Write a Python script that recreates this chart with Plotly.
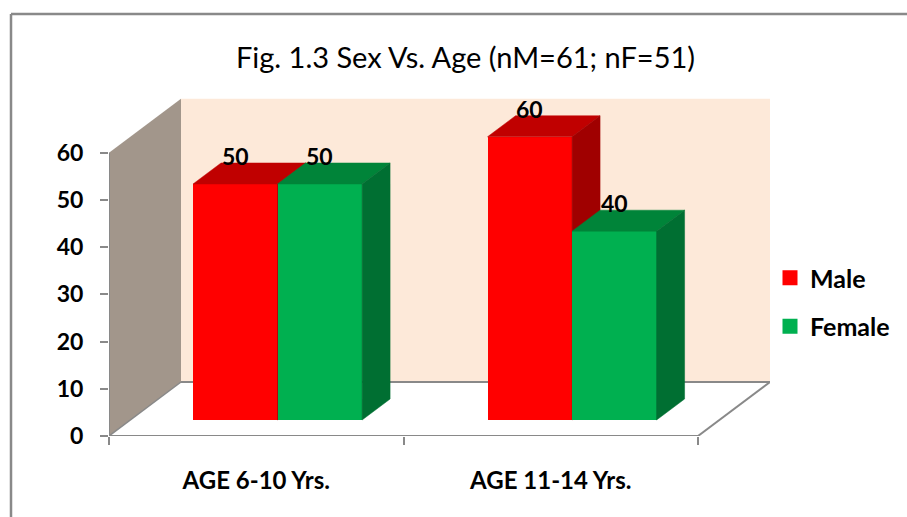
import plotly.graph_objects as go

categories = ["AGE 6-10 Yrs.", "AGE 11-14 Yrs."]
male = [50, 60]
female = [50, 40]
y_ticks = [0, 10, 20, 30, 40, 50, 60]
title_text = "Fig. 1.3 Sex Vs. Age (nM=61; nF=51)"

W, H = 907, 517
L, R, T, B = 109, 770, 98, 436
FONT = "Lato"
GRAY = "#898989"
XMAX = 2 + 72 / 294.5
YMAX = 71.6
DX = 72 / 294.5      # full depth in x-data units
DY = 54 / 4.72       # full depth in y-data units
BAR_W = 0.287
D0, D1 = 0.296, 0.685


def proj(x, y, d):
    return x + d * DX, y + d * DY


def poly(points):
    xs, ys = zip(*[proj(*p) for p in points])
    return list(xs) + [xs[0]], list(ys) + [ys[0]]


def path(points):
    pts = [proj(*p) for p in points]
    return "M" + " L".join(f"{x},{y}" for x, y in pts) + " Z"


def face(points, color, ax):
    xs, ys = poly(points)
    return go.Scatter(x=xs, y=ys, mode="lines", fill="toself", fillcolor=color,
                      line=dict(color=color, width=0.5), hoverinfo="skip",
                      showlegend=False, xaxis=ax[0], yaxis=ax[1])


def series(name, values, offset, front, top, side, ax):
    xc = [i + 0.5 + offset for i in range(len(values))]
    fx = [x + D0 * DX for x in xc]
    out = [go.Bar(x=fx, y=values, base=[D0 * DY] * len(values), width=BAR_W, name=name,
                  marker=dict(color=front, line=dict(width=0)), showlegend=False,
                  xaxis=ax[0], yaxis=ax[1]),
           # legend key only: the outline makes the swatch as large as the reference's
           go.Bar(x=[None], y=[None], name=f"<b>{name}</b>", legendgroup=name,
                  marker=dict(color=front, line=dict(width=3, color=front)),
                  xaxis=ax[0], yaxis=ax[1])]
    for x, v in zip(xc, values):
        a, b = x - BAR_W / 2, x + BAR_W / 2
        out.append(face([(a, v, D0), (b, v, D0), (b, v, D1), (a, v, D1)], top, ax))
        out.append(face([(b, 0, D0), (b, v, D0), (b, v, D1), (b, 0, D1)], side, ax))
    return out


fig = go.Figure()
for t in series("Male", male, -BAR_W / 2, "#FF0000", "#C00000", "#A00000", ("x", "y")):
    fig.add_trace(t)
for t in series("Female", female, BAR_W / 2, "#00B050", "#008439", "#006F32", ("x2", "y2")):
    fig.add_trace(t)

plot_w, plot_h = R - L, B - T
shapes = [
    dict(type="path", path=path([(0, 0, 1), (2, 0, 1), (2, 60, 1), (0, 60, 1)]),
         fillcolor="#FDE9D9", line=dict(width=0), layer="below"),
    dict(type="path", path=path([(0, 0, 0), (0, 0, 1), (0, 60, 1), (0, 60, 0)]),
         fillcolor="#A2968B", line=dict(width=0), layer="below"),
    dict(type="line", x0=proj(0, 0, 1)[0], y0=proj(0, 0, 1)[1], x1=proj(2, 0, 1)[0], y1=proj(2, 0, 1)[1],
         line=dict(color=GRAY, width=2), layer="below"),
    dict(type="line", x0=2, y0=0, x1=proj(2, 0, 1)[0], y1=proj(2, 0, 1)[1],
         line=dict(color=GRAY, width=2), layer="below"),
    dict(type="line", x0=0, y0=0, x1=proj(0, 0, 1)[0], y1=proj(0, 0, 1)[1],
         line=dict(color=GRAY, width=1.5), layer="below"),
    dict(type="line", x0=0, y0=0, x1=2, y1=0, line=dict(color=GRAY, width=2), layer="below"),
    dict(type="line", x0=0, y0=0, x1=0, y1=60, line=dict(color=GRAY, width=2), layer="below"),
    dict(type="line", xref="paper", yref="paper",
         x0=(11 - L) / plot_w, x1=(907 - L) / plot_w,
         y0=(B - 14) / plot_h, y1=(B - 14) / plot_h, line=dict(color=GRAY, width=2.5)),
    dict(type="line", xref="paper", yref="paper",
         x0=(11 - L) / plot_w, x1=(11 - L) / plot_w,
         y0=(B - 14) / plot_h, y1=(B - 517) / plot_h, line=dict(color=GRAY, width=2.5)),
]
for s in shapes:
    if "xref" not in s:
        s["xref"], s["yref"] = "x", "y"

annotations = []
for vals, off in ((male, -BAR_W / 2), (female, BAR_W / 2)):
    for i, v in enumerate(vals):
        annotations.append(dict(x=i + 0.5 + off + D0 * DX, y=v + D0 * DY, text=f"<b>{v}</b>", showarrow=False,
                                yshift=28, font=dict(family=FONT, size=23, color="#000000"),
                                xanchor="center", yanchor="middle"))

fig.update_layout(
    width=W, height=H, autosize=False,
    margin=dict(l=L, r=W - R, t=T, b=H - B, pad=0),
    paper_bgcolor="#FFFFFF", plot_bgcolor="rgba(0,0,0,0)",
    barmode="overlay", bargap=0,
    title=dict(text=title_text, x=465.5 / W, xanchor="center", y=1 - 58 / H, yanchor="middle",
               font=dict(family=FONT, size=29, color="#000000")),
    xaxis=dict(range=[0, XMAX], showgrid=False, zeroline=False, showline=False,
               tickmode="array", tickvals=[0.5, 1.5], ticktext=[f"<b>{c}</b>" for c in categories],
               ticks="", ticklabelstandoff=28,
               tickfont=dict(family=FONT, size=24, color="#000000"),
               minor=dict(tickmode="array", tickvals=[0, 1, 2], ticks="outside", ticklen=8,
                          tickwidth=2, tickcolor=GRAY, showgrid=False)),
    yaxis=dict(range=[0, YMAX], showgrid=False, zeroline=False, showline=False,
               tickmode="array", tickvals=y_ticks, ticktext=[f"<b>{v}</b>" for v in y_ticks],
               ticks="outside", ticklen=8, tickwidth=2, tickcolor=GRAY, ticklabelstandoff=12,
               tickfont=dict(family=FONT, size=23, color="#000000")),
    xaxis2=dict(range=[0, XMAX], overlaying="x", visible=False, matches="x"),
    yaxis2=dict(range=[0, YMAX], overlaying="y", visible=False, matches="y"),
    legend=dict(x=1.0, y=(B - 255) / plot_h, xanchor="left", yanchor="top",
                font=dict(family=FONT, size=25, color="#000000"), tracegroupgap=13,
                itemwidth=30, bgcolor="rgba(0,0,0,0)"),
    shapes=shapes, annotations=annotations, showlegend=True,
)

fig.write_html("out.html", config={"displayModeBar": False},
               post_script="document.body.style.margin='0';")
